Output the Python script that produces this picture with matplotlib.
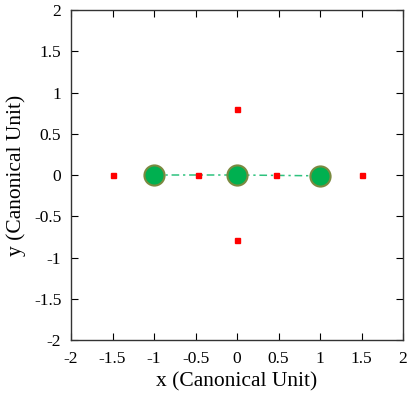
import matplotlib
matplotlib.use("Agg")
import matplotlib.pyplot as plt

plt.rcParams['font.family'] = ['Liberation Serif', 'DejaVu Serif']

# Data
bodies_x = [-1.0, 0.0, 1.0]
bodies_y = [0.0, 0.0, -0.01]
points_x = [-1.5, -0.47, 0.47, 1.5, 0.0, 0.0]
points_y = [0.0, 0.0, 0.0, 0.0, 0.8, -0.79]
ticks = [-2, -1.5, -1, -0.5, 0, 0.5, 1, 1.5, 2]
tick_labels = ['-2', '-1.5', '-1', '-0.5', '0', '0.5', '1', '1.5', '2']

fig = plt.figure(figsize=(4.11, 3.94), dpi=100)
ax = fig.add_axes([71/411, 1-340/394, (403-71)/411, (340-10)/394])

ax.plot(bodies_x, bodies_y, linestyle=(0, (5, 2.5, 1.5, 2.5)), color='#2ec27e',
        linewidth=1.1, zorder=1)
ax.plot(bodies_x, bodies_y, linestyle='none', marker='o', markersize=14.5,
        markerfacecolor='#00b050', markeredgecolor='#7a8a40', markeredgewidth=1.5, zorder=2)
ax.plot(points_x, points_y, linestyle='none', marker='s', markersize=3.6,
        color='#ff0000', zorder=3)

ax.set_xlim(-2, 2)
ax.set_ylim(-2, 2)
ax.set_xticks(ticks)
ax.set_xticklabels(tick_labels)
ax.set_yticks(ticks)
ax.set_yticklabels(tick_labels)
ax.tick_params(direction='in', top=True, right=True, labelsize=12.5, length=5, width=0.8)
ax.tick_params(axis='x', pad=8)
ax.tick_params(axis='y', pad=7)
for s in ax.spines.values():
    s.set_linewidth(1.0)
    s.set_color('#333333')
ax.set_xlabel('x (Canonical Unit)', fontsize=15.5, labelpad=4)
ax.set_ylabel('y (Canonical Unit)', fontsize=15.5, labelpad=6)

fig.savefig('out.png', dpi=100)
